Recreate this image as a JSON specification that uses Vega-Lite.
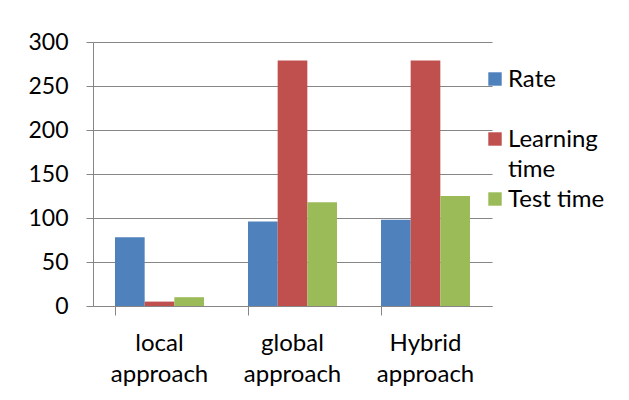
{
  "$schema": "https://vega.github.io/schema/vega-lite/v6.json",
  "width": 399,
  "height": 264,
  "autosize": "none",
  "padding": {"left": 93, "top": 42, "right": 137, "bottom": 94},
  "background": "white",
  "data": {
    "values": [
      {"cat": "local approach", "series": "Rate", "value": 78},
      {"cat": "local approach", "series": "Learning time", "value": 5},
      {"cat": "local approach", "series": "Test time", "value": 10},
      {"cat": "global approach", "series": "Rate", "value": 96},
      {"cat": "global approach", "series": "Learning time", "value": 279},
      {"cat": "global approach", "series": "Test time", "value": 118},
      {"cat": "Hybrid approach", "series": "Rate", "value": 98},
      {"cat": "Hybrid approach", "series": "Learning time", "value": 279},
      {"cat": "Hybrid approach", "series": "Test time", "value": 125}
    ]
  },
  "mark": {"type": "bar"},
  "encoding": {
    "x": {
      "field": "cat",
      "type": "nominal",
      "sort": null,
      "scale": {"paddingInner": 0.331, "paddingOuter": 0.1655},
      "axis": {
        "title": null,
        "labelAngle": 0,
        "labelExpr": "split(datum.label, ' ')",
        "labelFont": "Lato",
        "labelFontSize": 24,
        "labelColor": "#000000",
        "labelLineHeight": 31,
        "labelBaseline": "top",
        "labelPadding": 16,
        "bandPosition": 0,
        "tickSize": 9,
        "tickColor": "#868686",
        "domainColor": "#868686",
        "grid": false
      }
    },
    "xOffset": {"field": "series", "type": "nominal", "sort": ["Rate", "Learning time", "Test time"]},
    "y": {
      "field": "value",
      "type": "quantitative",
      "scale": {"domain": [0, 300], "nice": false},
      "axis": {
        "title": null,
        "values": [0, 50, 100, 150, 200, 250, 300],
        "labelFont": "Lato",
        "labelFontSize": 23,
        "labelColor": "#000000",
        "labelPadding": 18,
        "tickSize": 7,
        "tickColor": "#868686",
        "domainColor": "#868686",
        "gridColor": "#868686",
        "gridOpacity": 1
      }
    },
    "color": {
      "field": "series",
      "type": "nominal",
      "sort": ["Rate", "Learning time", "Test time"],
      "scale": {"domain": ["Rate", "Learning time", "Test time"], "range": ["#4F81BD", "#C0504D", "#9BBB59"]},
      "legend": {
        "title": null,
        "orient": "none",
        "legendX": 390,
        "legendY": 25,
        "symbolType": "square",
        "symbolSize": 180,
        "symbolStrokeWidth": 0,
        "labelFont": "Lato",
        "labelFontSize": 24,
        "labelColor": "#000000",
        "labelLineHeight": 31,
        "labelBaseline": "alphabetic",
        "labelExpr": "datum.label == 'Learning time' ? ['Learning', 'time'] : [datum.label, '']",
        "rowPadding": 5,
        "labelOffset": 1,
        "encode": {"labels": {"update": {"dy": {"value": 8}, "lineHeight": {"value": 30}}}}
      }
    }
  },
  "config": {"view": {"stroke": null}}
}
